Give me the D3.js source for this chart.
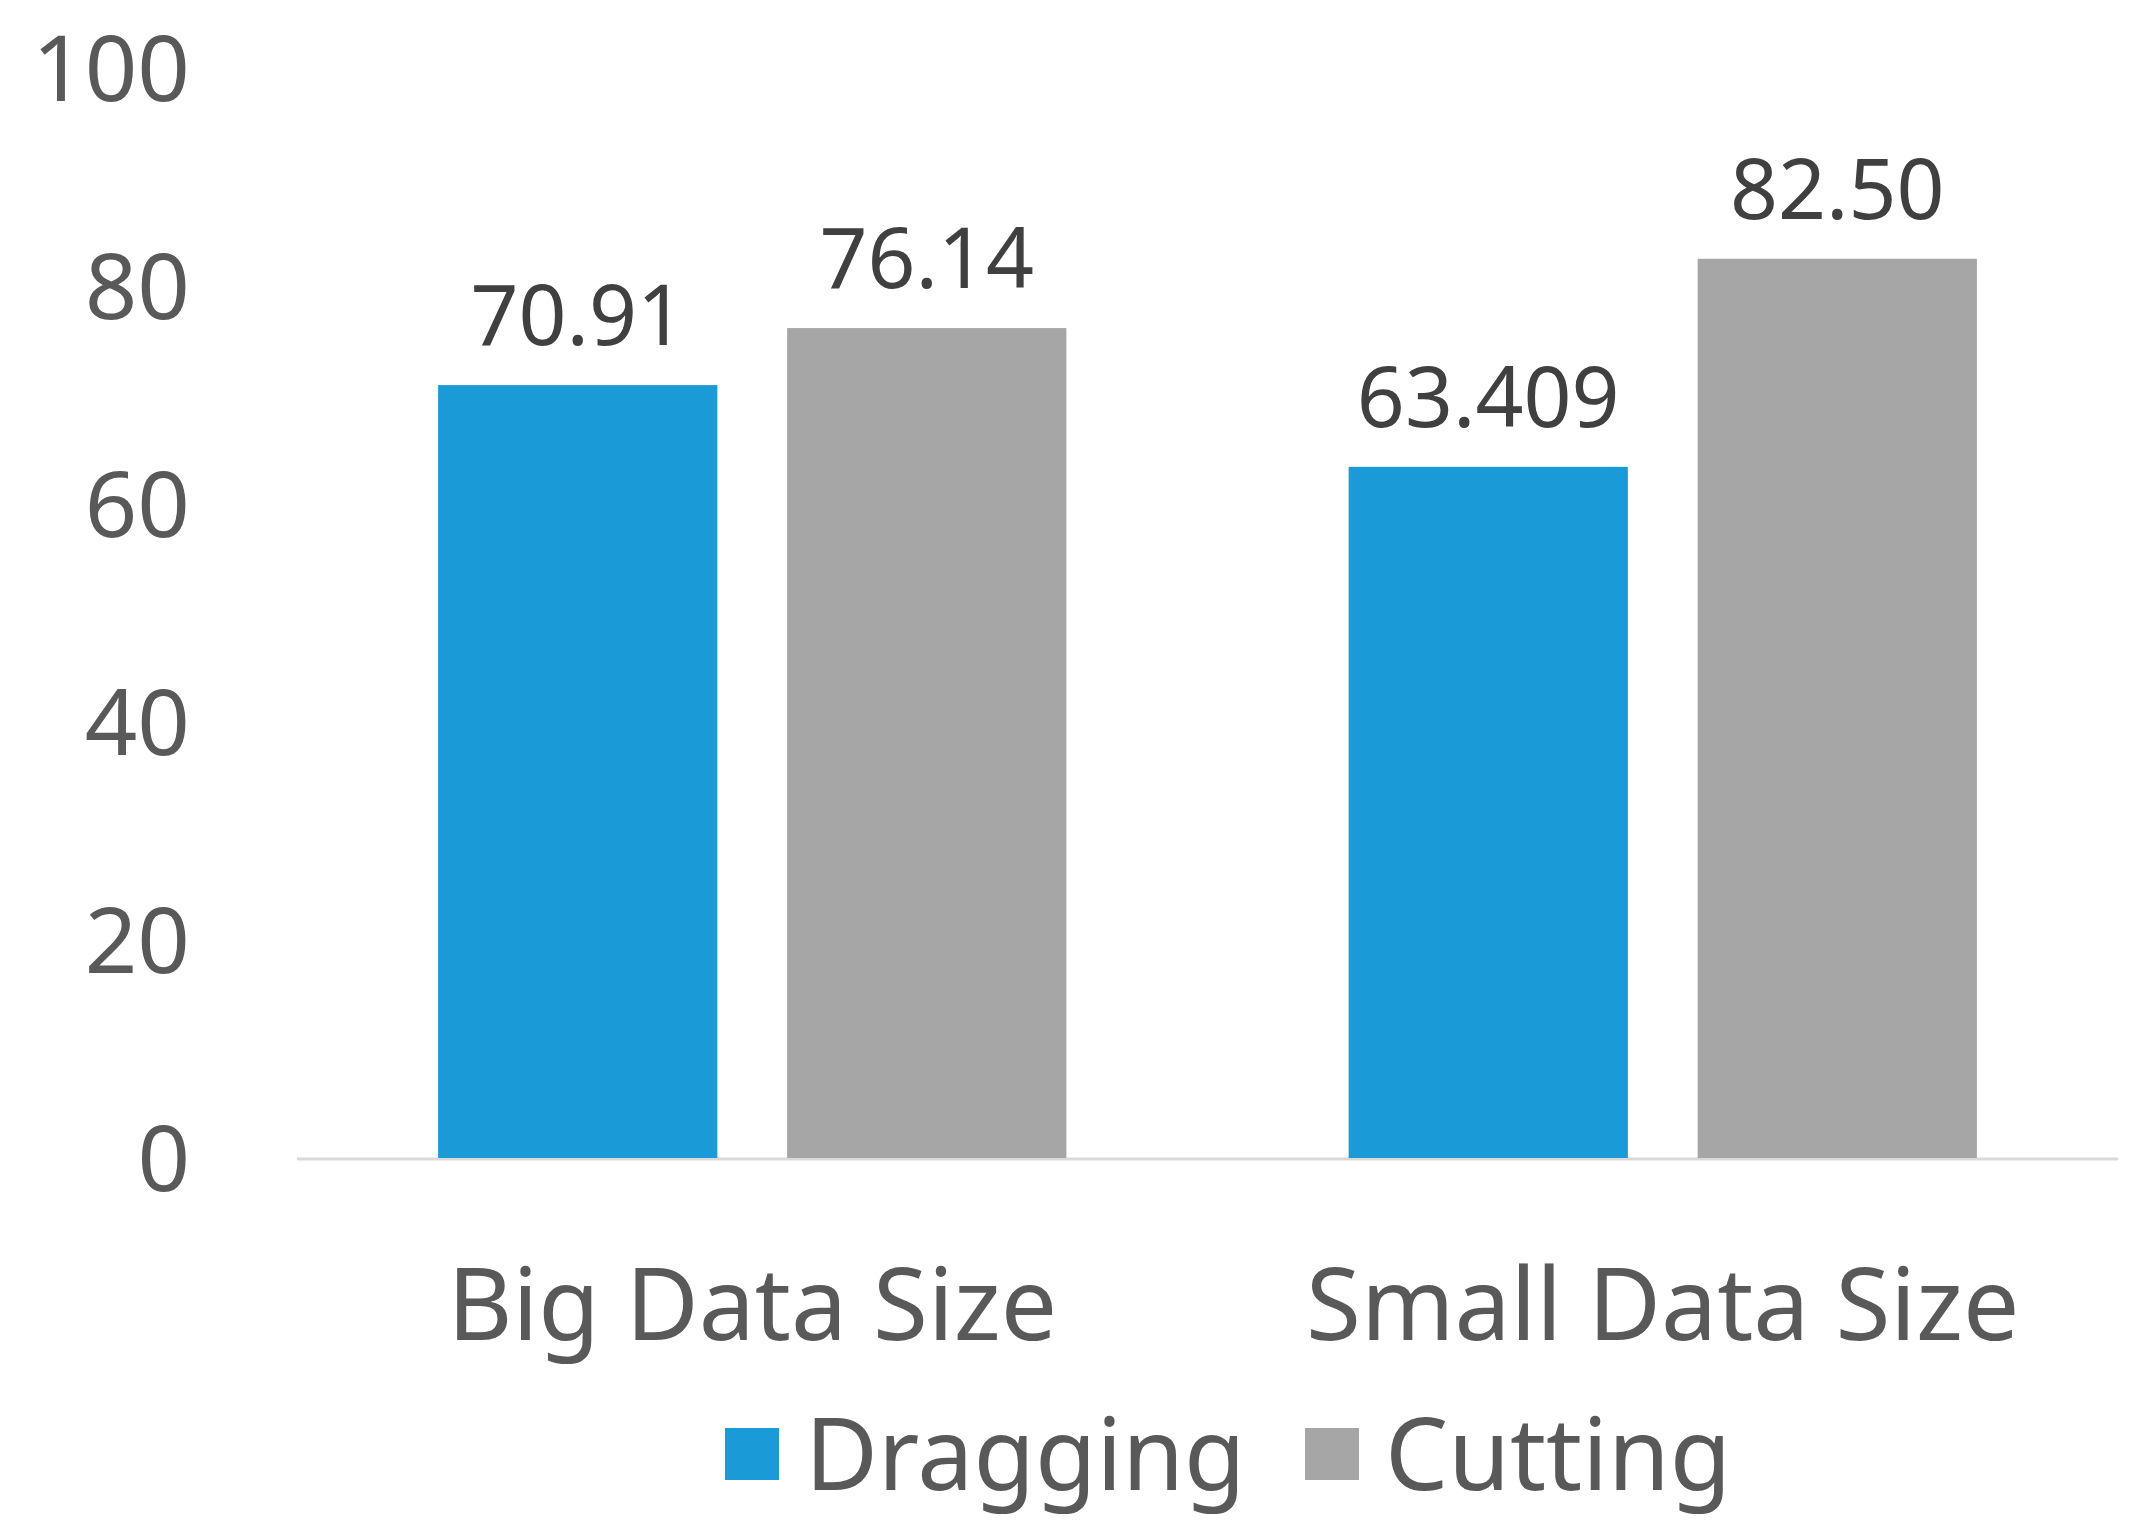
<!DOCTYPE html>
<html>
<head>
<meta charset="utf-8">
<script src="https://cdn.jsdelivr.net/npm/d3@7.9.0/dist/d3.min.js"></script>
<style>
  body { margin: 0; background: #fff; }
  svg { font-family: "Noto Sans", "Open Sans", sans-serif; }
</style>
</head>
<body>
<svg width="2136" height="1535"></svg>
<script>
const categories = ['Big Data Size', 'Small Data Size'];
const series = ['Dragging', 'Cutting'];
const dragging = [70.91, 63.409];
const cutting = [76.14, 82.50];
const labels = [['70.91', '76.14'], ['63.409', '82.50']];
const yTicks = [0, 20, 40, 60, 80, 100];

const colors = d3.scaleOrdinal().domain(series).range(['#1a9bd7', '#a6a6a6']);
const svg = d3.select('svg');

const x0 = d3.scaleBand().domain(categories).range([297, 2118]).paddingInner(0.31).paddingOuter(0.155);
const x1 = d3.scaleBand().domain(series).range([0, x0.bandwidth()]).paddingInner(0.2);
const y = d3.scaleLinear().domain([0, 100]).range([1158, 68]);

// y tick labels (no axis line)
svg.append('g')
  .selectAll('text')
  .data(yTicks)
  .join('text')
  .attr('x', 190)
  .attr('y', d => y(d))
  .attr('dy', '0.36em')
  .attr('text-anchor', 'end')
  .attr('font-size', 92)
  .attr('fill', '#595959')
  .text(d => d);

// baseline
svg.append('line')
  .attr('x1', 297).attr('x2', 2118)
  .attr('y1', y(0) + 1).attr('y2', y(0) + 1)
  .attr('stroke', '#d9d9d9').attr('stroke-width', 3);

const rows = categories.map((c, i) => ({ c, i, vals: [dragging[i], cutting[i]] }));
const groups = svg.append('g').selectAll('g').data(rows).join('g')
  .attr('transform', d => `translate(${x0(d.c)},0)`);

groups.selectAll('rect')
  .data(d => d.vals.map((v, j) => ({ s: series[j], v, lab: labels[d.i][j] })))
  .join('rect')
  .attr('x', d => x1(d.s))
  .attr('y', d => y(d.v))
  .attr('width', x1.bandwidth())
  .attr('height', d => y(0) - y(d.v))
  .attr('fill', d => colors(d.s));

groups.selectAll('text.val')
  .data(d => d.vals.map((v, j) => ({ s: series[j], v, lab: labels[d.i][j] })))
  .join('text')
  .attr('class', 'val')
  .attr('x', d => x1(d.s) + x1.bandwidth() / 2)
  .attr('y', d => y(d.v) - 40)
  .attr('text-anchor', 'middle')
  .attr('font-size', 84)
  .attr('fill', '#404040')
  .text(d => d.lab);

// category labels
svg.append('g').selectAll('text').data(categories).join('text')
  .attr('x', d => x0(d) + x0.bandwidth() / 2)
  .attr('y', 1340)
  .attr('text-anchor', 'middle')
  .attr('font-size', 100)
  .attr('fill', '#595959')
  .text(d => d);

// legend
const legendX = [725, 1305];
const lg = svg.append('g').selectAll('g').data(series).join('g')
  .attr('transform', (d, i) => `translate(${legendX[i]},1428)`);
lg.append('rect').attr('width', 54).attr('height', 52).attr('fill', d => colors(d));
lg.append('text')
  .attr('x', 80).attr('y', 26).attr('dy', '0.36em')
  .attr('font-size', 100).attr('fill', '#595959')
  .text(d => d);
</script>
</body>
</html>
